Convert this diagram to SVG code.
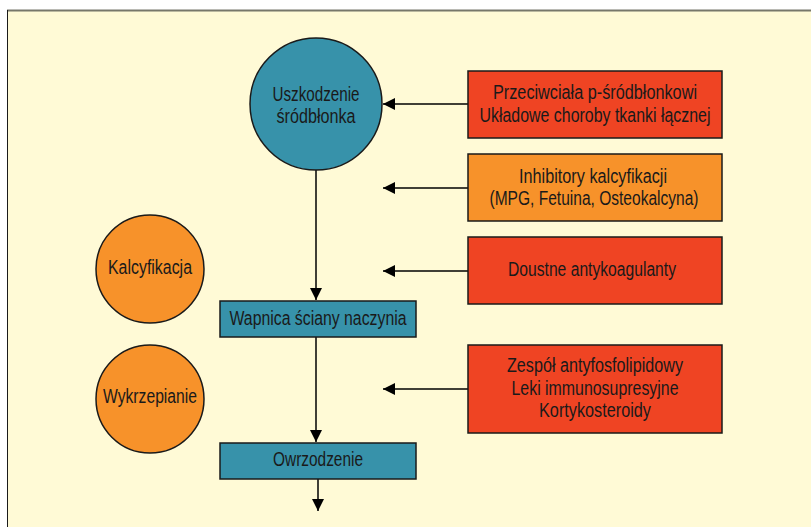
<svg xmlns="http://www.w3.org/2000/svg" width="811" height="527" viewBox="0 0 811 527">
<defs>
<style>
.t{font-family:"Liberation Sans",Arial,sans-serif;font-size:20px;fill:#1a1a1a;text-anchor:middle}
.teal{fill:#3792aa;stroke:#1a1a1a;stroke-width:1.5}
.red{fill:#ef4423;stroke:#1a1a1a;stroke-width:1.5}
.orange{fill:#f7922a;stroke:#1a1a1a;stroke-width:1.5}
.ln{stroke:#000;stroke-width:1.5;fill:none}
</style>
<marker id="ah" viewBox="0 0 12 12" refX="12" refY="6" markerWidth="12" markerHeight="12" markerUnits="userSpaceOnUse" orient="auto">
<path d="M0,0 L12,6 L0,12 Z" fill="#000"/>
</marker>
</defs>
<rect x="0" y="0" width="811" height="527" fill="#fff"/>
<rect x="7" y="10" width="810" height="525" fill="#fffad6"/>
<line x1="7" y1="10.5" x2="811" y2="10.5" stroke="#77776a" stroke-width="2"/>
<line x1="7.5" y1="10" x2="7.5" y2="527" stroke="#1a1a1a" stroke-width="1"/>

<g id="connectors">
<line class="ln" x1="316" y1="169" x2="316" y2="300" marker-end="url(#ah)"/>
<line class="ln" x1="316" y1="337" x2="316" y2="442" marker-end="url(#ah)"/>
<line class="ln" x1="318" y1="479" x2="318" y2="511" marker-end="url(#ah)"/>
<line class="ln" x1="468" y1="104" x2="383" y2="104" marker-end="url(#ah)"/>
<line class="ln" x1="468" y1="188" x2="383" y2="188" marker-end="url(#ah)"/>
<line class="ln" x1="468" y1="271" x2="383" y2="271" marker-end="url(#ah)"/>
<line class="ln" x1="468" y1="389" x2="383" y2="389" marker-end="url(#ah)"/>
</g>

<g id="uszkodzenie">
<circle class="teal" cx="316" cy="104" r="66"/>
<text class="t" x="316" y="101" textLength="87" lengthAdjust="spacingAndGlyphs">Uszkodzenie</text>
<text class="t" x="316" y="123" textLength="79" lengthAdjust="spacingAndGlyphs">śródbłonka</text>
</g>

<g id="wapnica">
<rect class="teal" x="220" y="301" width="196" height="36"/>
<text class="t" x="318" y="325" textLength="177" lengthAdjust="spacingAndGlyphs">Wapnica ściany naczynia</text>
</g>

<g id="owrzodzenie">
<rect class="teal" x="220" y="443" width="196" height="36"/>
<text class="t" x="318" y="466" textLength="90" lengthAdjust="spacingAndGlyphs">Owrzodzenie</text>
</g>

<g id="kalcyfikacja">
<circle class="orange" cx="150" cy="269" r="54"/>
<text class="t" x="150" y="274" textLength="84" lengthAdjust="spacingAndGlyphs">Kalcyfikacja</text>
</g>

<g id="wykrzepianie">
<circle class="orange" cx="150" cy="399" r="54"/>
<text class="t" x="150" y="403" textLength="94" lengthAdjust="spacingAndGlyphs">Wykrzepianie</text>
</g>

<g id="przeciwciala">
<rect class="red" x="468" y="71" width="254" height="67"/>
<text class="t" x="595" y="99" textLength="204" lengthAdjust="spacingAndGlyphs">Przeciwciała p-śródbłonkowi</text>
<text class="t" x="595" y="122" textLength="231" lengthAdjust="spacingAndGlyphs">Układowe choroby tkanki łącznej</text>
</g>

<g id="inhibitory">
<rect class="orange" x="468" y="154" width="254" height="67"/>
<text class="t" x="593" y="183" textLength="148" lengthAdjust="spacingAndGlyphs">Inhibitory kalcyfikacji</text>
<text class="t" x="594" y="205" textLength="209" lengthAdjust="spacingAndGlyphs">(MPG, Fetuina, Osteokalcyna)</text>
</g>

<g id="doustne">
<rect class="red" x="468" y="237" width="254" height="67"/>
<text class="t" x="592" y="276" textLength="168" lengthAdjust="spacingAndGlyphs">Doustne antykoagulanty</text>
</g>

<g id="zespol">
<rect class="red" x="468" y="345" width="254" height="88"/>
<text class="t" x="595" y="372" textLength="176" lengthAdjust="spacingAndGlyphs">Zespół antyfosfolipidowy</text>
<text class="t" x="595" y="395" textLength="167" lengthAdjust="spacingAndGlyphs">Leki immunosupresyjne</text>
<text class="t" x="595" y="417" textLength="112" lengthAdjust="spacingAndGlyphs">Kortykosteroidy</text>
</g>
</svg>
